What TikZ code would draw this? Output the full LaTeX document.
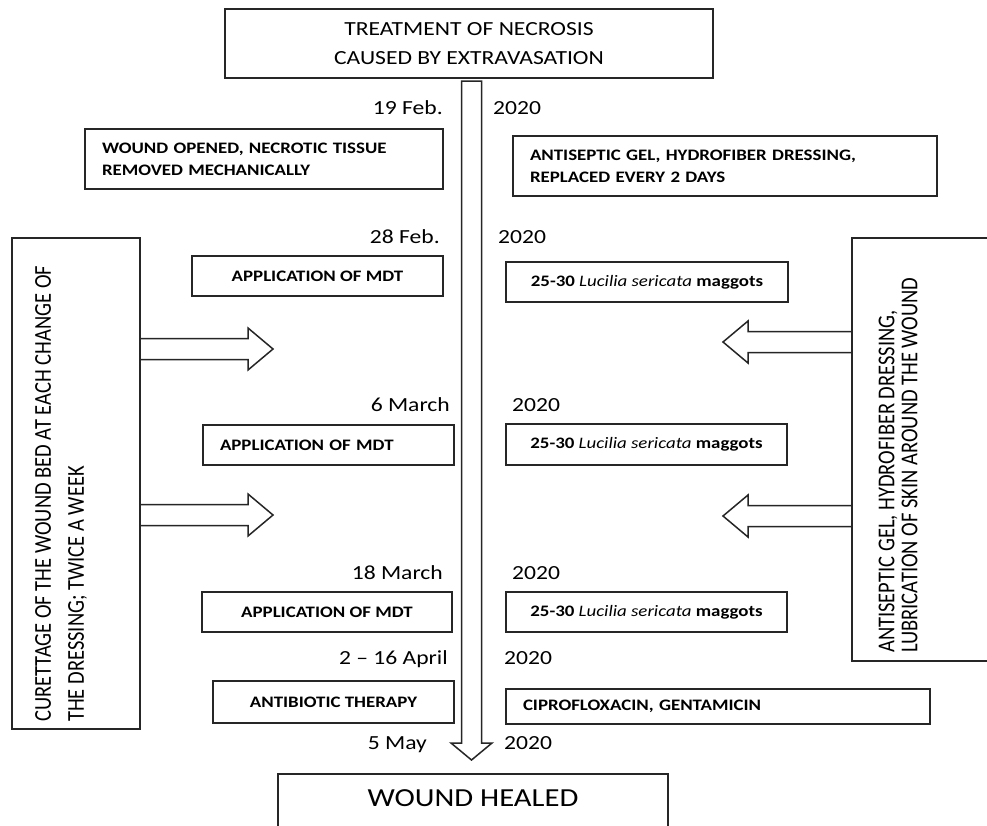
\documentclass[tikz,border=0pt]{standalone}
\usepackage{fontspec}
\setmainfont{Carlito}[FakeStretch=1.18]
\newfontfamily\rotfont{Carlito}
\usetikzlibrary{calc}

\newcommand\ttlfont{\fontsize{20pt}{29pt}\selectfont}
\newcommand\healfont{\fontsize{26pt}{30pt}\selectfont}
\newcommand\boxfont{\fontsize{16pt}{22pt}\selectfont\bfseries}
\newcommand\datefont{\fontsize{20pt}{24pt}\selectfont}

\tikzset{
  box/.style={draw=black!85, line width=1.5pt, inner sep=0pt, font=\boxfont},
  leftbox/.style={box, align=left, inner xsep=17pt},
  bigbox/.style={draw=black!85, line width=1.5pt, inner sep=0pt},
  datelbl/.style={inner sep=0pt, font=\datefont},
  rottxt/.style={inner sep=0pt, align=left, anchor=west, rotate=90, yscale=1.18},
  blk/.style={draw=black!85, line width=1.5pt, line join=miter}
}

\begin{document}
\begin{tikzpicture}[x=1pt,y=-1pt]
\clip (0,0) rectangle (987,825);
\fill[white] (0,0) rectangle (987,825);
% start and end
\node[box, font=\ttlfont, align=center, minimum width=488pt, minimum height=69pt] (necrosis) at (469,43.5) {TREATMENT OF NECROSIS\\CAUSED BY EXTRAVASATION};
\node[box, font=\healfont, anchor=north, minimum width=390pt, inner ysep=15.5pt, text depth=45pt] (healed) at (473,773) {WOUND HEALED};
% dates
\node[datelbl, anchor=base east] (feb19) at (443,114.5) {19 Feb.};
\node[datelbl, anchor=base west] (yr19) at (493,114.5) {2020};
\node[datelbl, anchor=base east] (feb28) at (440,243.5) {28 Feb.};
\node[datelbl, anchor=base west] (yr28) at (498,243.5) {2020};
\node[datelbl, anchor=base east] (mar6) at (450,411.5) {6 March};
\node[datelbl, anchor=base west] (yr6) at (512,411.5) {2020};
\node[datelbl, anchor=base east] (mar18) at (443,579.5) {18 March};
\node[datelbl, anchor=base west] (yr18) at (512,579.5) {2020};
\node[datelbl, anchor=base east] (apr) at (448,664.5) {2 -- 16 April};
\node[datelbl, anchor=base west] (yrapr) at (504,664.5) {2020};
\node[datelbl, anchor=base east] (may5) at (427,749.5) {5 May};
\node[datelbl, anchor=base west] (yrmay) at (504,749.5) {2020};
% steps
\node[leftbox, text width=324pt, minimum height=60pt] (opened) at (264,159) {WOUND OPENED, NECROTIC TISSUE\\REMOVED MECHANICALLY};
\node[leftbox, text width=390pt, minimum height=60pt] (gel) at (725,166) {ANTISEPTIC GEL, HYDROFIBER DRESSING,\\REPLACED EVERY 2 DAYS};
\node[box, minimum width=251pt, minimum height=40pt] (mdtA) at (317.5,276) {APPLICATION OF MDT};
\node[box, minimum width=282pt, minimum height=40pt] (magA) at (647,282) {25-30 {\mdseries\itshape Lucilia sericata} maggots};
\node[leftbox, text width=217pt, minimum height=40pt] (mdtB) at (328.5,445) {APPLICATION OF MDT};
\node[box, minimum width=281pt, minimum height=41pt] (magB) at (646.5,444.5) {25-30 {\mdseries\itshape Lucilia sericata} maggots};
\node[box, minimum width=250pt, minimum height=40pt] (mdtC) at (327,612) {APPLICATION OF MDT};
\node[box, minimum width=281pt, minimum height=40pt] (magC) at (646.5,612) {25-30 {\mdseries\itshape Lucilia sericata} maggots};
\node[box, minimum width=241pt, minimum height=42pt] (abx) at (333.5,702) {ANTIBIOTIC THERAPY};
\node[leftbox, text width=390pt, minimum height=35pt] (cipro) at (718,706.5) {CIPROFLOXACIN, GENTAMICIN};
% side boxes
\node[bigbox, minimum width=128pt, minimum height=491pt] (cur) at (76,483.5) {};
\node[rottxt, font=\rotfont\fontsize{20.5pt}{28pt}\selectfont] (curtxt) at (61,722) {CURETTAGE OF THE WOUND BED AT EACH CHANGE OF\\THE DRESSING; TWICE A WEEK};
\node[bigbox, minimum width=143pt, minimum height=423pt] (skin) at (923.5,449.5) {};
\node[rottxt, font=\rotfont\fontsize{20.5pt}{19.5pt}\selectfont] (skintxt) at (898,653) {ANTISEPTIC GEL, HYDROFIBER DRESSING,\\LUBRICATION OF SKIN AROUND THE WOUND};
% arrows
\coordinate (ftop) at (471.5,81);
\coordinate (ftip) at (471.5,760);
\draw[blk] ($(ftop)+(-10,0)$) -- ($(ftop)+(10,0)$) -- ($(ftip)+(10,-17)$) -- ($(ftip)+(20.5,-17)$) -- (ftip) -- ($(ftip)+(-20.5,-17)$) -- ($(ftip)+(-10,-17)$) -- cycle;
\foreach \y in {349,515}
  \draw[blk] (cur.east |- 0,\y-10.5) -- (248,\y-10.5) -- (248,\y-21) -- (273,\y) -- (248,\y+21) -- (248,\y+10.5) -- (cur.east |- 0,\y+10.5);
\foreach \y in {342,516}
  \draw[blk] (skin.west |- 0,\y-10.5) -- (748,\y-10.5) -- (748,\y-21) -- (723,\y) -- (748,\y+21) -- (748,\y+10.5) -- (skin.west |- 0,\y+10.5);
\end{tikzpicture}
\end{document}
